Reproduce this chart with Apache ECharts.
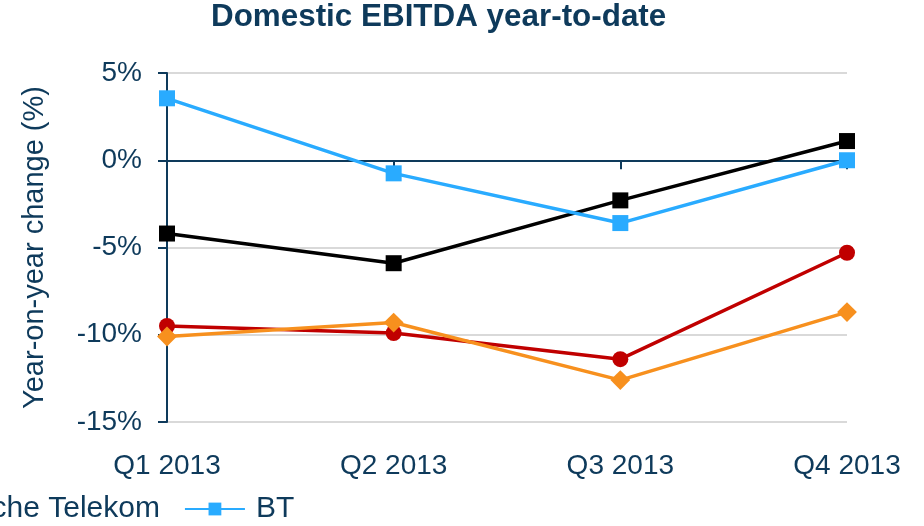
<!DOCTYPE html>
<html>
<head>
<meta charset="utf-8">
<script src="https://cdn.jsdelivr.net/npm/echarts@6/dist/echarts.min.js"></script>
<style>html,body{margin:0;padding:0;background:#fff}#c{width:924px;height:526px}</style>
</head>
<body>
<div id="c"></div>
<script>
const categories = ['Q1 2013', 'Q2 2013', 'Q3 2013', 'Q4 2013'];
const telefonica = [-9.5, -9.9, -11.4, -5.3];
const orange = [-10.1, -9.3, -12.6, -8.7];
const deutscheTelekom = [-4.2, -5.9, -2.3, 1.1];
const bt = [3.55, -0.75, -3.6, 0.0];
const yTicks = [-15, -10, -5, 0, 5];

const navy = '#0E3A5B';
const FONT = 'Liberation Sans, Arial, sans-serif';
const chart = echarts.init(document.getElementById('c'));
chart.setOption({
  animation: false,
  textStyle: { fontFamily: FONT },
  title: {
    text: 'Domestic EBITDA year-to-date',
    left: 211, top: 2, padding: 0,
    textStyle: { fontFamily: FONT, fontSize: 31.4, fontWeight: 'bold', color: navy }
  },
  grid: { left: 167, right: 77, top: 73, bottom: 104, containLabel: false },
  legend: {
    left: -586, top: 494, padding: 0, width: 2000,
    itemWidth: 60, itemHeight: 16, itemGap: 24,
    textStyle: { fontFamily: FONT, fontSize: 30, color: navy, padding: [0, 0, 0, 6] },
    data: ['Telefónica', 'Orange', 'Deutsche Telekom', 'BT']
  },
  xAxis: [{
    type: 'category', data: categories, boundaryGap: false,
    axisLine: { onZero: true, lineStyle: { color: navy, width: 2 } },
    axisTick: { show: true, length: 9, lineStyle: { color: navy, width: 2 } },
    axisLabel: { show: false },
    splitLine: { show: false }
  }, {
    type: 'category', data: categories, boundaryGap: false, position: 'bottom',
    axisLine: { show: false, onZero: false }, axisTick: { show: false },
    axisLabel: { show: true, margin: 30, fontSize: 28, color: navy, fontFamily: FONT },
    splitLine: { show: false }
  }],
  yAxis: {
    type: 'value', min: yTicks[0], max: yTicks[yTicks.length - 1], interval: 5,
    name: 'Year-on-year change (%)', nameLocation: 'middle', nameGap: 118,
    nameTextStyle: { fontSize: 29, color: navy, fontFamily: FONT },
    axisLine: { show: true, lineStyle: { color: navy, width: 2 } },
    axisTick: { show: true, length: 9, lineStyle: { color: navy, width: 2 } },
    axisLabel: { formatter: v => v + '%', fontSize: 28, color: navy, margin: 25, fontFamily: FONT },
    splitLine: { show: true, lineStyle: { color: '#D9D9D9', width: 2 } }
  },
  series: [
    { name: 'Telefónica', type: 'line', data: telefonica, symbol: 'circle', symbolSize: 16,
      lineStyle: { color: '#C00000', width: 3.5 }, itemStyle: { color: '#C00000' } },
    { name: 'Orange', type: 'line', data: orange, symbol: 'rect', symbolSize: 14, symbolRotate: 45,
      lineStyle: { color: '#F7901E', width: 3.5 }, itemStyle: { color: '#F7901E' } },
    { name: 'Deutsche Telekom', type: 'line', data: deutscheTelekom, symbol: 'rect', symbolSize: 16,
      lineStyle: { color: '#000000', width: 3.5 }, itemStyle: { color: '#000000' } },
    { name: 'BT', type: 'line', data: bt, symbol: 'rect', symbolSize: 16,
      lineStyle: { color: '#29ABFF', width: 3.5 }, itemStyle: { color: '#29ABFF' } }
  ]
});
</script>
</body>
</html>
